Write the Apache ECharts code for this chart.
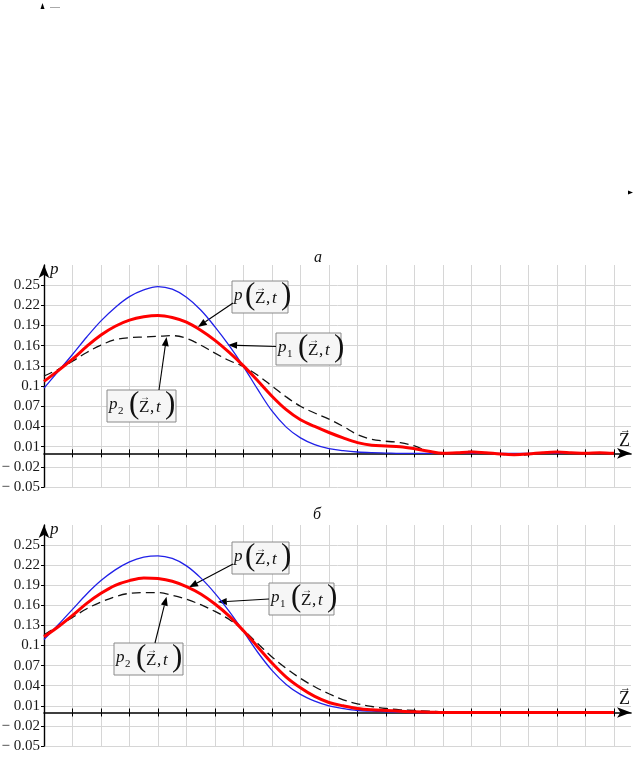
<!DOCTYPE html>
<html>
<head>
<meta charset="utf-8">
<script src="https://cdn.jsdelivr.net/npm/echarts@6/dist/echarts.min.js"></script>
<style>
  html, body { margin: 0; padding: 0; background: #fff; }
  #chart { width: 638px; height: 758px; }
</style>
</head>
<body>
<div id="chart"></div>
<script>
// Z coordinate (one unit per grid cell)
const zValues = [0, 0.5, 1, 1.5, 2, 2.5, 3, 3.5, 4, 4.5, 5, 5.5, 6, 6.5, 7, 7.5, 8, 8.5, 9, 9.5,
  10, 10.5, 11, 11.5, 12, 12.5, 13, 13.5, 14, 14.5, 15, 15.5, 16, 16.5, 17, 17.5, 18, 18.5, 19, 19.5, 20]

// panel "а"
const pA = [0.107, 0.123, 0.140, 0.159, 0.176, 0.189, 0.198, 0.203, 0.205, 0.202, 0.195, 0.183, 0.168, 0.150,
  0.130, 0.108, 0.085, 0.065, 0.050, 0.040, 0.031, 0.023, 0.016, 0.012, 0.011, 0.010, 0.007, 0.003,
  0.000, 0.001, 0.002, 0.001, -0.001, -0.002, -0.001, 0.001, 0.002, 0.001, 0.000, 0.001, 0.000]
const p1A = [0.097, 0.122, 0.147, 0.173, 0.197, 0.217, 0.233, 0.243, 0.248, 0.244, 0.232, 0.213, 0.188, 0.160,
  0.129, 0.095, 0.063, 0.039, 0.023, 0.013, 0.007, 0.004, 0.002, 0.001, 0.0005, 0, 0, 0,
  0, 0, 0, 0, 0, 0, 0, 0, 0, 0, 0, 0, 0]
const p2A = [0.115, 0.125, 0.137, 0.150, 0.161, 0.169, 0.172, 0.173, 0.174, 0.175, 0.171, 0.161, 0.149, 0.138,
  0.129, 0.116, 0.100, 0.084, 0.070, 0.060, 0.051, 0.040, 0.028, 0.021, 0.018, 0.016, 0.011, 0.003,
  0.000, 0.001, 0.003, 0.001, -0.001, -0.003, -0.002, 0.001, 0.002, 0.001, 0.000, 0.001, 0.000]

// panel "б"
const pB = [0.113, 0.128, 0.145, 0.163, 0.178, 0.190, 0.197, 0.201, 0.200, 0.196, 0.188, 0.177, 0.162, 0.144,
  0.122, 0.098, 0.074, 0.053, 0.037, 0.024, 0.015, 0.010, 0.006, 0.004, 0.003, 0.002, 0.001, 0.0005,
  0, 0, 0, 0, 0, 0, 0, 0, 0, 0, 0, 0, 0]
const p1B = [0.109, 0.131, 0.154, 0.177, 0.197, 0.213, 0.225, 0.232, 0.234, 0.230, 0.219, 0.201, 0.178, 0.151,
  0.121, 0.090, 0.063, 0.042, 0.027, 0.017, 0.010, 0.006, 0.003, 0.002, 0.001, 0.0005, 0, 0,
  0, 0, 0, 0, 0, 0, 0, 0, 0, 0, 0, 0, 0]
const p2B = [0.116, 0.129, 0.142, 0.155, 0.165, 0.173, 0.178, 0.179, 0.179, 0.175, 0.169, 0.161, 0.151, 0.139,
  0.123, 0.103, 0.083, 0.066, 0.051, 0.0385, 0.028, 0.019, 0.013, 0.009, 0.006, 0.004, 0.003, 0.002,
  0.001, 0.0005, 0, 0, 0, 0, 0, 0, 0, 0, 0, 0, 0]

// tick values
const yTicks = [-0.05, -0.02, 0.01, 0.04, 0.07, 0.1, 0.13, 0.16, 0.19, 0.22, 0.25]
const xTicks = [1, 2, 3, 4, 5, 6, 7, 8, 9, 10, 11, 12, 13, 14, 15, 16, 17, 18, 19, 20]

const SERIF = "'Liberation Serif', 'DejaVu Serif', serif"
const GRID_COLOR = '#d6d6d6'

const chart = echarts.init(document.getElementById('chart'))

const fmtTick = (v) => {
  const s = String(Math.round(Math.abs(v) * 100) / 100)
  return v < 0 ? '\u2212 ' + s : s
}

const makeXAxes = (gridIndex) => [
  {
    type: 'value', gridIndex, min: 0, max: 20.6,
    axisLine: {
      onZero: true, onZeroAxisIndex: gridIndex, symbol: ['none', 'arrow'], symbolSize: [8, 14],
      lineStyle: { color: '#000', width: 1.6 },
    },
    axisTick: { customValues: xTicks, length: 4, lineStyle: { color: '#000', width: 1 } },
    axisLabel: { show: false },
    splitLine: { show: true, lineStyle: { color: GRID_COLOR, width: 1 } },
  },
  {
    // second axis only for the upper halves of the ticks
    type: 'value', gridIndex, min: 0, max: 20.6, position: 'top',
    axisLine: { show: false, onZero: true, onZeroAxisIndex: gridIndex },
    axisTick: { customValues: xTicks, length: 4, lineStyle: { color: '#000', width: 1 } },
    axisLabel: { show: false },
    splitLine: { show: false },
  },
]

const makeYAxis = (gridIndex) => ({
  type: 'value', gridIndex, min: -0.05, max: 0.28,
  axisLine: {
    show: true, onZero: false, symbol: ['none', 'arrow'], symbolSize: [8, 13],
    lineStyle: { color: '#000', width: 1.4 },
  },
  axisTick: { customValues: yTicks, length: 3, lineStyle: { color: '#000' } },
  axisLabel: {
    customValues: yTicks, formatter: fmtTick, margin: 4,
    fontFamily: SERIF, fontSize: 15, color: '#1a1a1a',
  },
  splitLine: { show: true, lineStyle: { color: GRID_COLOR, width: 1 } },
})

const makeSeries = (values, gridIndex, lineStyle, z) => ({
  type: 'line',
  xAxisIndex: gridIndex * 2,
  yAxisIndex: gridIndex,
  data: zValues.map((zv, i) => [zv, values[i]]),
  showSymbol: false,
  smooth: 0.35,
  silent: true,
  z,
  lineStyle,
})

const blueStyle = { color: '#2020e8', width: 1.3 }
const redStyle = { color: '#ff0000', width: 3 }
const dashStyle = { color: '#111', width: 1.3, type: [9, 5] }

chart.setOption({
  animation: false,
  backgroundColor: '#fff',
  grid: [
    { left: 44, top: 265, width: 587, height: 222, containLabel: false, outerBoundsMode: 'none' },
    { left: 44, top: 525, width: 587, height: 221, containLabel: false, outerBoundsMode: 'none' },
  ],
  xAxis: [...makeXAxes(0), ...makeXAxes(1)],
  yAxis: [makeYAxis(0), makeYAxis(1)],
  series: [
    makeSeries(p1A, 0, blueStyle, 2),
    makeSeries(p2A, 0, dashStyle, 3),
    makeSeries(pA, 0, redStyle, 4),
    makeSeries(p1B, 1, blueStyle, 2),
    makeSeries(p2B, 1, dashStyle, 3),
    makeSeries(pB, 1, redStyle, 4),
  ],
})

// ---- annotations ----
const txt = (x, y, text, font, extra) => ({
  type: 'text', x, y,
  style: Object.assign({ text, font, fill: '#111', align: 'left', verticalAlign: 'middle' }, extra || {}),
})

// "Z" with a small vector arrow over it
const vecZ = (x, y, size) => [
  txt(x, y, 'Z', size + 'px ' + SERIF),
  txt(x + 1, y - size * 0.62, '\u2192', Math.round(size * 0.6) + 'px ' + SERIF),
]

const labelBox = (x, y, sub, w) => {
  const h = 32
  const cx = sub ? 21 : 12
  const children = [
    { type: 'rect', shape: { x: 0, y: 0, width: w, height: h }, style: { fill: '#f6f6f6', stroke: '#8a8a8a', lineWidth: 1 } },
    txt(2, 15, 'p', 'italic 17px ' + SERIF),
  ]
  if (sub) children.push(txt(11, 21, sub, '11px ' + SERIF))
  children.push(txt(cx + 1, 15, '(', '31px ' + SERIF))
  children.push(...vecZ(cx + 11, 18, 17))
  children.push(txt(cx + 22, 18, ',', '17px ' + SERIF))
  children.push(txt(cx + 28, 18, 't', 'italic 17px ' + SERIF))
  children.push(txt(cx + 37, 15, ')', '31px ' + SERIF))
  return { type: 'group', x, y, z: 20, children }
}

const arrow = (from, to) => {
  const dx = to[0] - from[0], dy = to[1] - from[1]
  const len = Math.sqrt(dx * dx + dy * dy)
  const ux = dx / len, uy = dy / len
  const bx = to[0] - ux * 9, by = to[1] - uy * 9
  return {
    type: 'group', z: 21,
    children: [
      { type: 'line', shape: { x1: from[0], y1: from[1], x2: bx, y2: by }, style: { stroke: '#000', lineWidth: 1.1 } },
      {
        type: 'polygon',
        shape: { points: [to, [bx - uy * 3.5, by + ux * 3.5], [bx + uy * 3.5, by - ux * 3.5]] },
        style: { fill: '#000' },
      },
    ],
  }
}

// arrow tips are points on the curves, given in axis units
const px = (g, u, v) => chart.convertToPixel({ gridIndex: g }, [u, v])

const graphics = [
  // bits of the panel above, cut off by the crop
  { type: 'polygon', shape: { points: [[40.5, 9], [42.5, 3], [44.5, 9]] }, style: { fill: '#000' } },
  { type: 'line', shape: { x1: 50, y1: 7.5, x2: 60, y2: 7.5 }, style: { stroke: '#aaa', lineWidth: 1 } },
  { type: 'polygon', shape: { points: [[628, 190.5], [633, 192.5], [628, 194.5]] }, style: { fill: '#000' } },

  txt(314, 258, '\u0430', 'italic 16px ' + SERIF),
  txt(313, 515, '\u0431', 'italic 16px ' + SERIF),

  txt(50, 270, 'p', 'italic 17px ' + SERIF),
  txt(50, 530, 'p', 'italic 17px ' + SERIF),
  ...vecZ(619, 441, 18),
  ...vecZ(619, 699, 18),

  labelBox(232, 281, '', 56),
  labelBox(276, 333, '1', 65),
  labelBox(107, 390, '2', 69),
  arrow([233, 303], px(0, 5.4, 0.188)),
  arrow([276, 346.5], px(0, 6.46, 0.161)),
  arrow([159, 390], px(0, 4.3, 0.173)),

  labelBox(232, 542, '', 57),
  labelBox(269, 583, '1', 65),
  labelBox(114, 643, '2', 69),
  arrow([233, 564], px(1, 5.09, 0.187)),
  arrow([269, 599], px(1, 6.1, 0.165)),
  arrow([155, 643], px(1, 4.3, 0.173)),
]

chart.setOption({ graphic: graphics })
</script>
</body>
</html>
